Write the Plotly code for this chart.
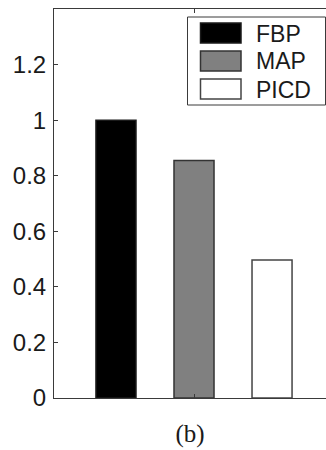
import plotly.graph_objects as go

# ---- data ----
methods = ["FBP", "MAP", "PICD"]
values = [1.0, 0.855, 0.497]
group = ["Normalized value"]
y_ticks = [0, 0.2, 0.4, 0.6, 0.8, 1, 1.2]
y_tick_labels = ["0", "0.2", "0.4", "0.6", "0.8", "1", "1.2"]
caption = "(b)"

# ---- styles ----
fills = ["#000000", "#808080", "#ffffff"]
edges = ["#1a1a1a", "#333333", "#444444"]
axis_col = "#3a3a3a"
txt_col = "#1a1a1a"

W, H = 326, 450
ML, MR, MT, MB = 54, 0, 9, 52
pw, ph = W - ML - MR, H - MT - MB

def px_x(p):
    return (p - ML) / pw

def px_y(p):
    return (H - MB - p) / ph

fig = go.Figure()
for name, v, fc, ec in zip(methods, values, fills, edges):
    fig.add_trace(go.Bar(
        x=group, y=[v], name=name,
        marker=dict(color=fc, line=dict(color=ec, width=1.5)),
        showlegend=False,
    ))

# manual legend (large MATLAB-style swatches)
shapes = [dict(type="rect", xref="paper", yref="paper",
               x0=px_x(187.5), x1=px_x(325.5), y0=px_y(105), y1=px_y(17),
               line=dict(color=axis_col, width=1), fillcolor="white", layer="above")]
annotations = []
for i, (name, fc, ec) in enumerate(zip(methods, fills, edges)):
    top = 23 + 28 * i
    shapes.append(dict(type="rect", xref="paper", yref="paper",
                       x0=px_x(200.5), x1=px_x(241), y0=px_y(top + 20), y1=px_y(top),
                       line=dict(color=ec, width=1.5), fillcolor=fc, layer="above"))
    annotations.append(dict(xref="paper", yref="paper", x=px_x(254), y=px_y(top + 10.5),
                            text=name, showarrow=False, xanchor="left", yanchor="middle",
                            font=dict(family="Liberation Sans, Arial", size=23, color=txt_col)))

fig.update_layout(
    width=W, height=H,
    margin=dict(l=ML, r=MR, t=MT, b=MB),
    paper_bgcolor="white", plot_bgcolor="white",
    barmode="group", bargap=0.164, bargroupgap=0.487,
    shapes=shapes, annotations=annotations,
    font=dict(family="Liberation Sans, Arial", color=txt_col),
    xaxis=dict(
        type="category", range=[-0.5, 0.4714],
        showline=True, linecolor=axis_col, linewidth=1, mirror="ticks",
        ticks="inside", ticklen=4, tickcolor=axis_col,
        showticklabels=False, showgrid=False, zeroline=False,
        title=dict(text=caption, standoff=26,
                   font=dict(family="Liberation Serif, Times New Roman", size=25, color=txt_col)),
        automargin=False,
    ),
    yaxis=dict(
        range=[0, 1.4], tickvals=y_ticks, ticktext=y_tick_labels,
        showline=True, linecolor=axis_col, linewidth=1,
        ticks="inside", ticklen=4, tickcolor=axis_col,
        tickfont=dict(size=24, color=txt_col), ticklabelstandoff=2,
        showgrid=False, zeroline=False, automargin=False,
    ),
)

fig.write_html("out.html", config={"displayModeBar": False},
               post_script="document.body.style.margin='0';document.body.style.overflow='hidden';")
